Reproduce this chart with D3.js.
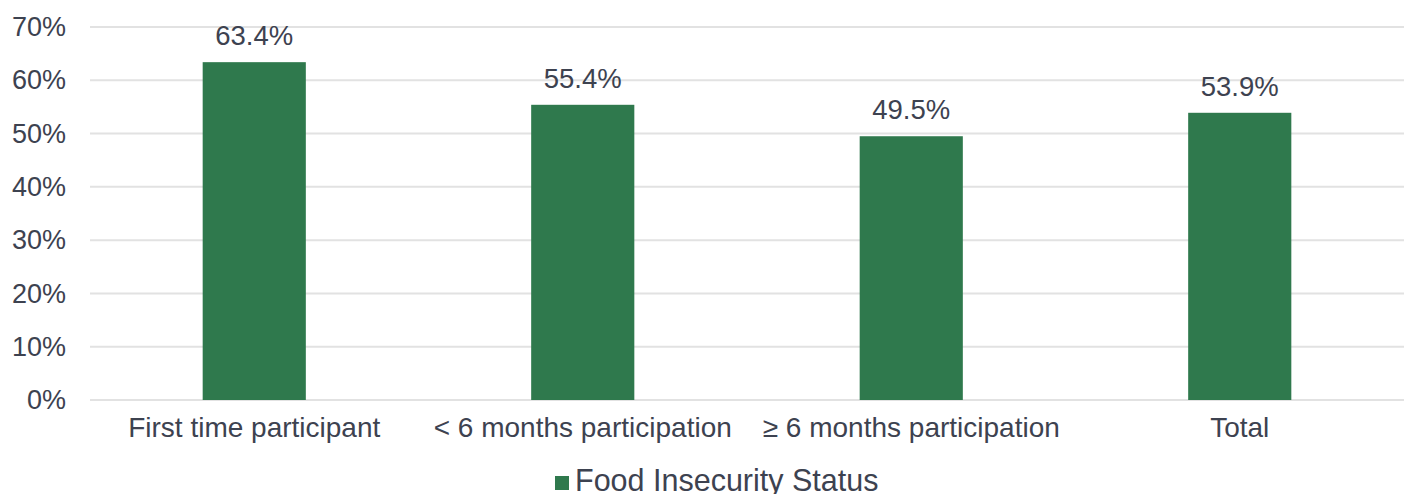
<!DOCTYPE html>
<html>
<head>
<meta charset="utf-8">
<script src="https://cdn.jsdelivr.net/npm/d3@7"></script>
<style>
  body { margin: 0; background: #fff; }
  text { font-family: "Liberation Sans", Arial, Helvetica, sans-serif; fill: #3d4250; }
</style>
</head>
<body>
<svg id="chart"></svg>
<script>
// DATA ----------------------------------------------------------------------------------------------------------------
var categories = ["First time participant", "< 6 months participation", "\u2265 6 months participation", "Total"];
var values = [63.4, 55.4, 49.5, 53.9];
var tickValues = [0, 10, 20, 30, 40, 50, 60, 70];
var seriesName = "Food Insecurity Status";

// SIZE ----------------------------------------------------------------------------------------------------------------
var width = 1406,
    height = 494,
    plotLeft = 90,
    plotRight = 1404,
    plotTop = 27,
    plotBottom = 400;

var svg = d3.select("#chart")
  .attr("width", width)
  .attr("height", height);

// Scales
var x = d3.scaleBand()
  .domain(categories)
  .range([plotLeft, plotRight])
  .paddingInner(0.686)
  .paddingOuter(0.343);

var y = d3.scaleLinear()
  .domain([0, 70])
  .range([plotBottom, plotTop]);

// Gridlines
svg.append("g")
  .selectAll("line")
  .data(tickValues)
  .enter().append("line")
    .attr("x1", plotLeft)
    .attr("x2", plotRight)
    .attr("y1", function(d) { return y(d); })
    .attr("y2", function(d) { return y(d); })
    .attr("stroke", "#e2e2e2")
    .attr("stroke-width", 2);

// Y axis labels
var yAxis = svg.append("g")
  .attr("transform", "translate(" + (plotLeft - 24) + ",0)")
  .call(d3.axisLeft(y).tickValues(tickValues).tickSize(0).tickPadding(0)
    .tickFormat(function(d) { return d + "%"; }));
yAxis.select(".domain").remove();
yAxis.selectAll("text")
  .style("font-size", "27px")
  .attr("font-family", null)
  .attr("fill", null);

// Bars
svg.append("g")
  .selectAll("rect")
  .data(values)
  .enter().append("rect")
    .attr("x", function(d, i) { return x(categories[i]); })
    .attr("y", function(d) { return y(d); })
    .attr("width", x.bandwidth())
    .attr("height", function(d) { return y(0) - y(d); })
    .attr("fill", "#2f794d");

// Value labels
svg.append("g")
  .selectAll("text")
  .data(values)
  .enter().append("text")
    .attr("x", function(d, i) { return x(categories[i]) + x.bandwidth() / 2; })
    .attr("y", function(d) { return y(d) - 17; })
    .attr("text-anchor", "middle")
    .style("font-size", "27.5px")
    .text(function(d) { return d.toFixed(1) + "%"; });

// X axis labels
var xAxis = svg.append("g")
  .attr("transform", "translate(0," + plotBottom + ")")
  .call(d3.axisBottom(x).tickSize(0).tickPadding(0));
xAxis.select(".domain").remove();
xAxis.selectAll("text")
  .attr("dy", null)
  .attr("y", 37)
  .style("font-size", "28px")
  .attr("font-family", null)
  .attr("fill", null);

// Legend
var legend = svg.append("g")
  .attr("transform", "translate(555,0)");
legend.append("rect")
  .attr("x", 0)
  .attr("y", 476)
  .attr("width", 14)
  .attr("height", 14)
  .attr("fill", "#2f794d");
legend.append("text")
  .attr("x", 20)
  .attr("y", 491)
  .style("font-size", "30.5px")
  .text(seriesName);
</script>
</body>
</html>
